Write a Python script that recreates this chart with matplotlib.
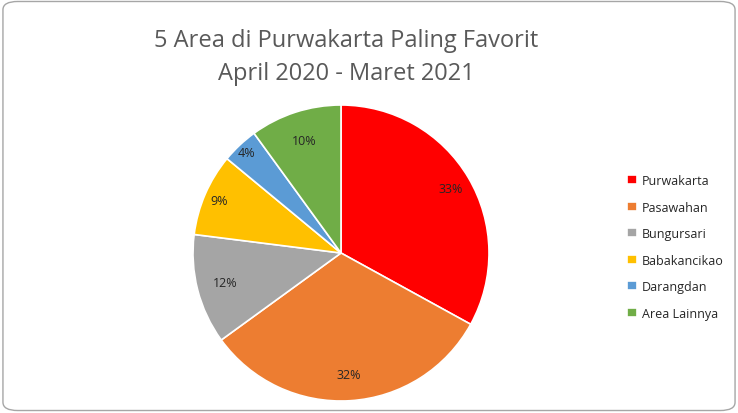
import matplotlib.pyplot as plt
from matplotlib.patches import FancyBboxPatch

areas = ["Purwakarta", "Pasawahan", "Bungursari", "Babakancikao", "Darangdan", "Area Lainnya"]
shares = [33, 32, 12, 9, 4, 10]
colors = ["#FF0000", "#ED7D31", "#A5A5A5", "#FFC000", "#5B9BD5", "#70AD47"]
# how far out each % label sits (Excel "best fit" look)
label_dist = [0.86, 0.82, 0.81, 0.9, 0.93, 0.8]

plt.rcParams["font.family"] = ["Open Sans", "DejaVu Sans"]

fig = plt.figure(figsize=(7.38, 4.14), dpi=100)
fig.patches.append(FancyBboxPatch((0.004, 0.006), 0.992, 0.988,
                                  boxstyle="round,pad=0,rounding_size=0.02",
                                  transform=fig.transFigure, facecolor="none",
                                  edgecolor="#A6A6A6", linewidth=1))

ax = fig.add_axes([341 / 738 - 148 / 738, 1 - (254 + 148) / 414, 296 / 738, 296 / 414])
wedges, texts, autotexts = ax.pie(shares, colors=colors, startangle=90, counterclock=False,
                                  autopct="%d%%", pctdistance=1.0,
                                  wedgeprops=dict(edgecolor="white", linewidth=1.2),
                                  textprops=dict(fontsize=9, color="#262626"))
for t, d in zip(autotexts, label_dist):
    x, y = t.get_position()
    t.set_position((x * d, y * d))
ax.set_xlim(-1, 1)
ax.set_ylim(-1, 1)
ax.set_aspect("equal")

fig.text(346 / 738, 1 - 41 / 414, "5 Area di Purwakarta Paling Favorit", ha="center", va="center",
         fontsize=17, color="#595959")
fig.text(346 / 738, 1 - 74 / 414, "April 2020 - Maret 2021", ha="center", va="center",
         fontsize=17, color="#595959")

fig.legend(wedges, areas, loc="center left", bbox_to_anchor=(616 / 738, 1 - 248 / 414),
           frameon=False, fontsize=9, handlelength=0.75, handleheight=0.75,
           handletextpad=0.4, labelspacing=1.08, labelcolor="#262626")

fig.savefig("out.png", dpi=100)
